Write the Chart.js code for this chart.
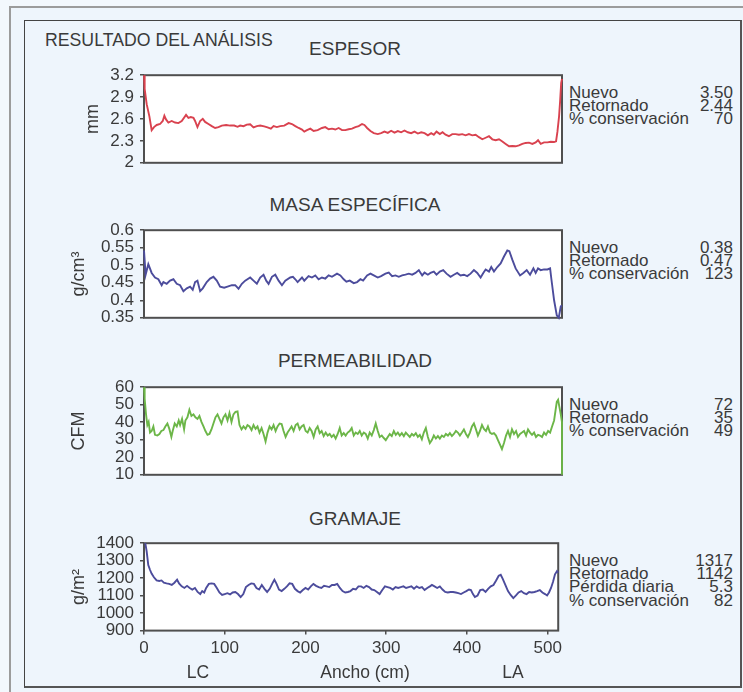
<!DOCTYPE html>
<html><head><meta charset="utf-8">
<script src="https://cdn.jsdelivr.net/npm/chart.js@4.4.1/dist/chart.umd.min.js"></script>
<style>
html,body{margin:0;padding:0;}
body{width:743px;height:692px;position:relative;overflow:hidden;background:#f3f8fd;font-family:"Liberation Sans",Arial,sans-serif;color:#3a3a3a;}
#outer{position:absolute;left:9px;top:6px;width:760px;height:720px;border:2px solid #9c9c9c;background:#eef5fc;box-sizing:border-box;}
#inner{position:absolute;left:24px;top:20px;width:718px;height:668px;border-left:1px solid #444;border-top:1px solid #444;border-right:2px solid #555;border-bottom:2px solid #555;box-sizing:border-box;background:#eef5fc;}
.cv{position:absolute;left:24px;}
.ttl{position:absolute;left:205px;width:300px;text-align:center;font-size:19px;line-height:22px;white-space:nowrap;}
.main{position:absolute;left:45px;top:30px;font-size:17.7px;line-height:20px;white-space:nowrap;}
.stats{position:absolute;left:569px;width:164px;font-size:17px;line-height:13.2px;}
.row{display:flex;justify-content:space-between;white-space:nowrap;height:13.2px;}
.xl{position:absolute;top:661px;font-size:17.5px;line-height:22px;white-space:nowrap;transform:translateX(-50%);}
</style>
</head><body>
<div id="outer"></div>
<div id="inner"></div>
<div class="main">RESULTADO DEL ANÁLISIS</div>
<div class="ttl" style="top:38px">ESPESOR</div>
<div class="ttl" style="top:194px">MASA ESPECÍFICA</div>
<div class="ttl" style="top:350px">PERMEABILIDAD</div>
<div class="ttl" style="top:508px">GRAMAJE</div>
<canvas id="c1" class="cv" width="542" height="120" style="top:59px"></canvas>
<canvas id="c2" class="cv" width="542" height="120" style="top:214px"></canvas>
<canvas id="c3" class="cv" width="542" height="120" style="top:371px"></canvas>
<canvas id="c4" class="cv" width="542" height="140" style="top:527px"></canvas>
<div id="s1" class="stats" style="top:86px"></div>
<div id="s2" class="stats" style="top:241px"></div>
<div id="s3" class="stats" style="top:398px"></div>
<div id="s4" class="stats" style="top:554px"></div>
<div class="xl" style="left:198px">LC</div>
<div class="xl" style="left:365px">Ancho (cm)</div>
<div class="xl" style="left:513px">LA</div>
<script>
// ---- Data (x = ancho en cm) ----
const X_MIN = 0, X_MAX = 513;
const X_TICKS = [0, 100, 200, 300, 400, 500];

const ESP_TICKS = [2, 2.3, 2.6, 2.9, 3.2];
const ESP_X = [
 0, 0.8, 3.3, 6.6, 9.4, 12.3, 15.6, 19.7, 23.0, 25.0,
 27.0, 29.9, 34.0, 38.1, 42.2, 46.3, 51.6, 54.5, 57.4, 60.7,
 62.7, 65.6, 68.9, 72.1, 75.0, 79.1, 83.2, 87.3, 91.4, 95.5,
 100.8, 105.7, 110.7, 114.8, 118.0, 122.1, 126.2, 130.3, 134.4, 138.5,
 142.6, 147.5, 151.6, 155.7, 159.0, 163.1, 167.2, 172.1, 177.5, 181.6,
 185.7, 189.8, 193.9, 196.7, 200.0, 204.1, 208.2, 213.1, 218.4, 222.5,
 226.6, 230.7, 234.8, 238.9, 243.0, 247.1, 251.2, 255.3, 259.4, 263.5,
 267.6, 270.5, 273.8, 277.9, 282.0, 286.9, 291.0, 295.1, 299.2, 303.3,
 307.4, 311.5, 315.6, 319.7, 323.8, 327.9, 332.0, 336.1, 340.2, 344.3,
 348.4, 352.5, 355.7, 359.0, 363.1, 366.4, 370.1, 374.2, 378.3, 382.4,
 386.5, 390.6, 394.7, 398.8, 402.9, 407.0, 411.1, 415.2, 419.3, 423.4,
 427.5, 431.6, 435.7, 439.8, 443.9, 448.0, 452.0, 456.1, 460.2, 464.3,
 468.4, 472.5, 476.6, 480.7, 483.6, 486.9, 491.0, 495.1, 499.2, 503.3,
 505.7, 507.4, 509.4, 510.7, 512.0, 513.0];
const ESP_Y = [
 3.2, 3.012, 2.803, 2.636, 2.447, 2.489, 2.518, 2.531, 2.573, 2.644,
 2.594, 2.552, 2.573, 2.552, 2.544, 2.573, 2.656, 2.615, 2.627, 2.615,
 2.573, 2.489, 2.573, 2.602, 2.560, 2.531, 2.502, 2.477, 2.489, 2.510,
 2.518, 2.510, 2.510, 2.493, 2.510, 2.502, 2.523, 2.527, 2.485, 2.502,
 2.510, 2.498, 2.485, 2.468, 2.502, 2.489, 2.502, 2.510, 2.544, 2.531,
 2.502, 2.477, 2.456, 2.427, 2.447, 2.468, 2.435, 2.447, 2.477, 2.489,
 2.460, 2.468, 2.456, 2.477, 2.447, 2.447, 2.460, 2.468, 2.489, 2.502,
 2.531, 2.518, 2.477, 2.435, 2.406, 2.393, 2.406, 2.427, 2.410, 2.439,
 2.414, 2.435, 2.418, 2.443, 2.418, 2.406, 2.427, 2.401, 2.418, 2.406,
 2.376, 2.406, 2.385, 2.427, 2.393, 2.418, 2.385, 2.364, 2.393, 2.393,
 2.385, 2.393, 2.376, 2.393, 2.376, 2.385, 2.351, 2.322, 2.343, 2.364,
 2.322, 2.309, 2.322, 2.293, 2.259, 2.226, 2.230, 2.226, 2.238, 2.259,
 2.272, 2.276, 2.259, 2.280, 2.309, 2.259, 2.280, 2.280, 2.289, 2.284,
 2.293, 2.427, 2.636, 2.845, 3.095, 3.15];

const MASA_TICKS = [0.35, 0.4, 0.45, 0.5, 0.55, 0.6];
const MASA_X = [
 0, 2.0, 5.3, 9.4, 13.5, 17.6, 21.7, 23.8, 27.9, 32.0,
 36.1, 40.2, 44.3, 48.4, 52.5, 56.6, 59.8, 62.7, 65.6, 68.9,
 72.1, 77.0, 81.1, 85.2, 89.3, 93.4, 98.4, 102.5, 107.8, 111.9,
 116.0, 120.1, 124.2, 130.3, 134.4, 138.5, 142.6, 146.7, 150.0, 152.9,
 157.0, 161.1, 165.2, 169.3, 173.4, 179.5, 182.8, 185.7, 188.5, 193.9,
 196.7, 202.0, 206.1, 210.2, 214.3, 218.4, 222.5, 226.6, 230.7, 236.9,
 241.0, 245.1, 248.4, 252.5, 257.4, 261.5, 265.6, 268.9, 273.8, 277.9,
 282.0, 286.9, 291.0, 296.3, 300.4, 304.5, 308.6, 312.7, 316.8, 320.9,
 325.0, 329.1, 333.2, 337.3, 341.4, 344.3, 348.4, 351.6, 355.7, 359.0,
 363.1, 367.2, 371.3, 376.2, 380.3, 384.4, 388.5, 392.6, 396.7, 400.8,
 404.9, 409.0, 413.1, 416.4, 419.3, 423.4, 426.2, 429.5, 433.6, 437.7,
 441.8, 445.9, 448.4, 452.0, 456.1, 461.5, 465.6, 469.7, 473.8, 477.9,
 480.7, 483.6, 486.9, 491.0, 495.1, 498.4, 500.0, 503.3, 506.6, 509.0,
 511.5, 513.0];
const MASA_Y = [
 0.542, 0.473, 0.503, 0.478, 0.465, 0.460, 0.443, 0.452, 0.447, 0.456,
 0.460, 0.447, 0.443, 0.426, 0.434, 0.439, 0.430, 0.452, 0.456, 0.426,
 0.434, 0.452, 0.462, 0.467, 0.456, 0.439, 0.436, 0.439, 0.443, 0.443,
 0.433, 0.447, 0.456, 0.465, 0.456, 0.447, 0.465, 0.473, 0.456, 0.447,
 0.467, 0.473, 0.456, 0.443, 0.456, 0.465, 0.467, 0.460, 0.452, 0.465,
 0.456, 0.469, 0.465, 0.471, 0.460, 0.465, 0.462, 0.471, 0.467, 0.476,
 0.471, 0.460, 0.453, 0.456, 0.449, 0.452, 0.460, 0.456, 0.471, 0.476,
 0.471, 0.465, 0.469, 0.476, 0.479, 0.469, 0.471, 0.467, 0.471, 0.473,
 0.476, 0.473, 0.478, 0.486, 0.471, 0.479, 0.473, 0.478, 0.482, 0.473,
 0.482, 0.486, 0.476, 0.467, 0.473, 0.478, 0.471, 0.473, 0.469, 0.476,
 0.486, 0.478, 0.465, 0.478, 0.488, 0.482, 0.495, 0.482, 0.495, 0.505,
 0.525, 0.542, 0.540, 0.516, 0.491, 0.471, 0.478, 0.486, 0.473, 0.491,
 0.478, 0.491, 0.486, 0.488, 0.488, 0.491, 0.460, 0.400, 0.357, 0.350,
 0.383, 0.385];

const PERM_TICKS = [10, 20, 30, 40, 50, 60];
const PERM_X = [
 0, 0.8, 2.5, 4.1, 5.7, 7.4, 9.4, 11.5, 13.5, 16.4,
 18.9, 21.3, 23.8, 26.2, 28.7, 31.1, 33.6, 35.2, 37.7, 40.2,
 42.6, 44.3, 46.7, 49.2, 50.8, 53.3, 55.7, 58.2, 60.7, 63.1,
 65.6, 68.0, 70.5, 73.0, 75.4, 77.9, 80.3, 82.8, 85.2, 87.7,
 90.2, 92.6, 95.1, 97.5, 100.0, 102.5, 104.9, 107.4, 109.8, 112.3,
 114.8, 117.2, 119.7, 122.1, 124.6, 127.0, 129.5, 132.0, 134.4, 136.9,
 139.3, 141.8, 144.3, 146.7, 149.2, 151.6, 154.1, 156.6, 159.0, 161.5,
 163.9, 166.4, 168.9, 171.3, 173.8, 176.2, 178.7, 181.1, 183.6, 186.1,
 188.5, 191.0, 193.4, 195.9, 198.4, 200.8, 203.3, 205.7, 208.2, 210.7,
 213.1, 215.6, 218.0, 220.5, 223.0, 225.4, 227.9, 230.3, 232.8, 235.2,
 237.7, 240.2, 242.6, 245.1, 247.5, 250.0, 252.5, 254.9, 257.4, 259.8,
 262.3, 264.8, 267.2, 269.7, 272.1, 274.6, 277.0, 279.5, 282.0, 284.4,
 286.9, 289.3, 291.8, 294.3, 296.7, 299.2, 301.6, 304.1, 306.6, 309.0,
 311.5, 313.9, 316.4, 318.9, 321.3, 323.8, 326.2, 328.7, 331.1, 333.6,
 336.1, 338.5, 341.0, 343.4, 345.9, 348.4, 350.8, 353.3, 355.7, 358.2,
 360.7, 363.1, 365.6, 368.0, 370.5, 373.0, 375.4, 377.9, 380.3, 382.8,
 385.2, 387.7, 390.2, 392.6, 395.1, 397.5, 400.0, 402.5, 404.9, 407.4,
 409.8, 412.3, 414.8, 417.2, 419.7, 422.1, 424.6, 427.0, 429.5, 432.0,
 434.4, 436.9, 439.3, 441.8, 444.3, 446.7, 449.2, 451.6, 454.1, 456.6,
 459.0, 461.5, 463.9, 466.4, 468.9, 471.3, 473.8, 476.2, 478.7, 481.1,
 483.6, 486.1, 488.5, 491.0, 493.4, 495.9, 498.4, 500.8, 503.3, 504.9,
 506.6, 508.2, 509.8, 511.5, 513, 513];
const PERM_Y = [
 60, 53.4, 44.5, 38.4, 40.2, 34.1, 35, 37.6, 32.8, 32.4,
 33.3, 35, 35.5, 37.6, 39.3, 36.2, 31.6, 35, 39.3, 37.6,
 41, 38.4, 41.9, 35.9, 41, 42.8, 47.1, 43.6, 44.5, 42.8,
 41.9, 43.6, 40.2, 37.6, 35, 32.8, 33.3, 35.9, 39.3, 42.8,
 44.5, 41.9, 39.3, 42.8, 44.5, 41, 45.3, 40.2, 44.5, 45.9,
 46.2, 38.4, 35.9, 37.6, 36.2, 38.4, 37.6, 35.5, 38.4, 36.2,
 37.6, 34.1, 36.7, 33.3, 29, 34.1, 37.6, 35.9, 38.4, 35,
 37.6, 39.3, 39, 35, 31.6, 34.1, 35.9, 37.6, 35, 38.4,
 39.3, 35.9, 37.6, 38.4, 35, 34.1, 36.7, 35, 31.6, 35.9,
 37.6, 33.8, 35, 32.1, 34.1, 32.4, 33.3, 31.6, 32.8, 30.7,
 33.3, 36.7, 32.4, 33.8, 32.4, 34.1, 35, 36.7, 32.4, 34.1,
 33.3, 35, 32.4, 34.1, 33.3, 30.7, 34.1, 32.4, 35.5, 39.3,
 35, 31.6, 32.4, 31, 29.8, 31.6, 33.3, 32.1, 35, 32.8,
 34.1, 32.4, 33.8, 32.1, 34.1, 32.8, 31.6, 33.3, 32.4, 33.8,
 31.6, 32.8, 30.3, 34.1, 36.7, 31.6, 28.1, 29.8, 32.4, 30.7,
 32.1, 30.7, 32.4, 31.6, 33.3, 32.4, 33.8, 32.1, 33.3, 35,
 34.1, 32.4, 34.1, 35.9, 33.3, 31.6, 34.1, 37.6, 39.3, 35.9,
 32.4, 35, 38.4, 36.2, 35, 37.6, 34.1, 33.3, 33.8, 32.4,
 29.8, 27.2, 24.7, 28.1, 32.4, 35, 31.6, 35.9, 33.3, 35,
 31.6, 33.3, 34.1, 35, 32.4, 35.9, 34.1, 32.8, 34.1, 31.6,
 32.8, 32.4, 31.6, 34.1, 32.8, 35, 34.1, 37.6, 41, 46.2,
 51.7, 52.8, 48.8, 44.5, 40, 10];

const GRAM_TICKS = [900, 1000, 1100, 1200, 1300, 1400];
const GRAM_X = [
 1.6, 3.3, 5.3, 7.4, 9.4, 12.3, 15.6, 18.9, 21.7, 24.6,
 27.9, 31.1, 34.4, 37.7, 41.0, 43.4, 46.7, 50.0, 53.3, 56.6,
 59.8, 63.1, 66.4, 69.7, 72.1, 74.6, 77.0, 80.3, 83.6, 86.9,
 90.2, 93.4, 96.7, 100.0, 103.3, 106.6, 109.8, 113.1, 116.4, 119.7,
 123.0, 126.2, 129.5, 132.8, 136.1, 139.3, 142.6, 145.9, 149.2, 152.5,
 155.7, 159.0, 161.5, 163.9, 167.2, 170.5, 173.8, 177.0, 180.3, 183.6,
 186.9, 190.2, 193.4, 196.7, 200.0, 203.3, 206.6, 209.8, 213.1, 216.4,
 219.7, 223.0, 226.2, 229.5, 232.8, 236.1, 239.3, 242.6, 245.9, 249.2,
 252.5, 255.7, 259.0, 262.3, 265.6, 268.9, 272.1, 275.4, 278.7, 282.0,
 285.2, 288.5, 291.8, 295.1, 298.4, 301.6, 304.9, 308.2, 311.5, 314.8,
 318.0, 321.3, 324.6, 327.9, 331.1, 334.4, 337.7, 341.0, 344.3, 347.5,
 350.8, 354.1, 356.6, 359.8, 363.1, 366.4, 369.7, 373.0, 376.2, 379.5,
 382.8, 386.1, 389.3, 392.6, 395.9, 399.2, 402.5, 404.9, 407.4, 409.8,
 413.1, 416.4, 419.7, 423.0, 426.2, 429.5, 432.8, 436.1, 439.3, 441.8,
 444.3, 447.5, 450.8, 454.1, 457.4, 460.7, 463.9, 467.2, 470.5, 473.8,
 477.0, 480.3, 483.6, 486.9, 490.2, 493.4, 496.7, 499.2, 501.6, 504.1,
 506.6, 509.0, 511.5, 513.0];
const GRAM_Y = [
 1400, 1353, 1275, 1248, 1226, 1205, 1187, 1184, 1187, 1174,
 1170, 1167, 1161, 1174, 1191, 1170, 1153, 1144, 1156, 1144,
 1135, 1144, 1121, 1109, 1126, 1118, 1144, 1167, 1170, 1167,
 1144, 1118, 1104, 1109, 1114, 1107, 1118, 1121, 1109, 1092,
 1109, 1149, 1161, 1170, 1167, 1144, 1135, 1161, 1139, 1121,
 1139, 1170, 1191, 1170, 1135, 1126, 1139, 1153, 1170, 1167,
 1139, 1126, 1118, 1132, 1144, 1135, 1153, 1167, 1156, 1149,
 1144, 1156, 1153, 1149, 1161, 1161, 1167, 1144, 1126, 1118,
 1121, 1126, 1139, 1135, 1153, 1153, 1144, 1156, 1149, 1135,
 1132, 1121, 1109, 1132, 1153, 1149, 1144, 1135, 1149, 1144,
 1149, 1153, 1144, 1149, 1153, 1139, 1153, 1144, 1149, 1132,
 1144, 1153, 1161, 1153, 1144, 1153, 1135, 1121, 1118, 1121,
 1121, 1118, 1114, 1109, 1118, 1126, 1135, 1132, 1109, 1092,
 1101, 1132, 1135, 1121, 1139, 1153, 1161, 1187, 1214, 1219,
 1196, 1161, 1126, 1104, 1086, 1101, 1118, 1126, 1114, 1109,
 1121, 1118, 1121, 1126, 1132, 1118, 1109, 1101, 1118, 1144,
 1179, 1222, 1240, 1231];

const ESP_STATS_LABELS = ["Nuevo", "Retornado", "% conservación"];
const ESP_STATS_VALUES = ["3.50", "2.44", "70"];
const MASA_STATS_LABELS = ["Nuevo", "Retornado", "% conservación"];
const MASA_STATS_VALUES = ["0.38", "0.47", "123"];
const PERM_STATS_LABELS = ["Nuevo", "Retornado", "% conservación"];
const PERM_STATS_VALUES = ["72", "35", "49"];
const GRAM_STATS_LABELS = ["Nuevo", "Retornado", "Pérdida diaria", "% conservación"];
const GRAM_STATS_VALUES = ["1317", "1142", "5.3", "82"];

// ---- Rendering ----
Chart.defaults.font.family = '"Liberation Sans", Arial, sans-serif';
Chart.defaults.color = '#3a3a3a';

const framePlugin = {
  id: 'frame',
  beforeDraw(chart) {
    const a = chart.chartArea, c = chart.ctx;
    c.save(); c.fillStyle = '#ffffff';
    c.fillRect(a.left, a.top, a.right - a.left, a.bottom - a.top);
    c.restore();
  },
  beforeDatasetsDraw(chart) {
    const a = chart.chartArea, c = chart.ctx;
    c.save(); c.strokeStyle = '#4f4f4f'; c.lineWidth = 2;
    c.strokeRect(a.left, a.top, a.right - a.left, a.bottom - a.top);
    c.restore();
  }
};

function makeChart(id, xs, ys, color, yTicks, yTitle, titlePad, showX) {
  return new Chart(document.getElementById(id), {
    type: 'line',
    data: { datasets: [{
      data: xs.map((x, i) => ({ x: x, y: ys[i] })),
      borderColor: color, borderWidth: 1.9, pointRadius: 0, tension: 0, clip: false
    }] },
    options: {
      responsive: false, animation: false, events: [],
      layout: { padding: { top: 12, bottom: showX ? 4 : 12, left: 0, right: 4 } },
      plugins: { legend: { display: false }, tooltip: { enabled: false }, title: { display: false } },
      scales: {
        x: {
          type: 'linear', min: X_MIN, max: X_MAX, display: showX,
          afterBuildTicks: s => { s.ticks = X_TICKS.map(v => ({ value: v })); },
          ticks: { font: { size: 17 }, color: '#3a3a3a', padding: 4, maxRotation: 0, autoSkip: false, callback: v => String(v) },
          grid: { drawOnChartArea: false, tickLength: 4, color: '#4f4f4f', lineWidth: 1.5 },
          border: { display: false }
        },
        y: {
          type: 'linear', min: yTicks[0], max: yTicks[yTicks.length - 1],
          afterBuildTicks: s => { s.ticks = yTicks.map(v => ({ value: v })); },
          afterFit: s => { s.width = 120; },
          ticks: { font: { size: 17 }, color: '#3a3a3a', padding: 6, autoSkip: false, callback: v => String(v) },
          grid: { drawOnChartArea: false, tickLength: 4, color: '#4f4f4f', lineWidth: 1.5 },
          border: { display: false },
          title: { display: true, text: yTitle, font: { size: 18 }, color: '#3a3a3a', padding: { top: titlePad, bottom: 0 } }
        }
      }
    },
    plugins: [framePlugin]
  });
}

makeChart('c1', ESP_X, ESP_Y, '#d9424f', ESP_TICKS, 'mm', 58, false);
makeChart('c2', MASA_X, MASA_Y, '#4c4c9c', MASA_TICKS, 'g/cm³', 44, false);
makeChart('c3', PERM_X, PERM_Y, '#6cb648', PERM_TICKS, 'CFM', 44, false);
makeChart('c4', GRAM_X, GRAM_Y, '#4c4c9c', GRAM_TICKS, 'g/m²', 44, true);

function fillStats(id, labels, values) {
  const el = document.getElementById(id);
  labels.forEach((l, i) => {
    const r = document.createElement('div'); r.className = 'row';
    const a = document.createElement('span'); a.textContent = l;
    const b = document.createElement('span'); b.textContent = values[i];
    r.appendChild(a); r.appendChild(b); el.appendChild(r);
  });
}
fillStats('s1', ESP_STATS_LABELS, ESP_STATS_VALUES);
fillStats('s2', MASA_STATS_LABELS, MASA_STATS_VALUES);
fillStats('s3', PERM_STATS_LABELS, PERM_STATS_VALUES);
fillStats('s4', GRAM_STATS_LABELS, GRAM_STATS_VALUES);
</script>
</body></html>
